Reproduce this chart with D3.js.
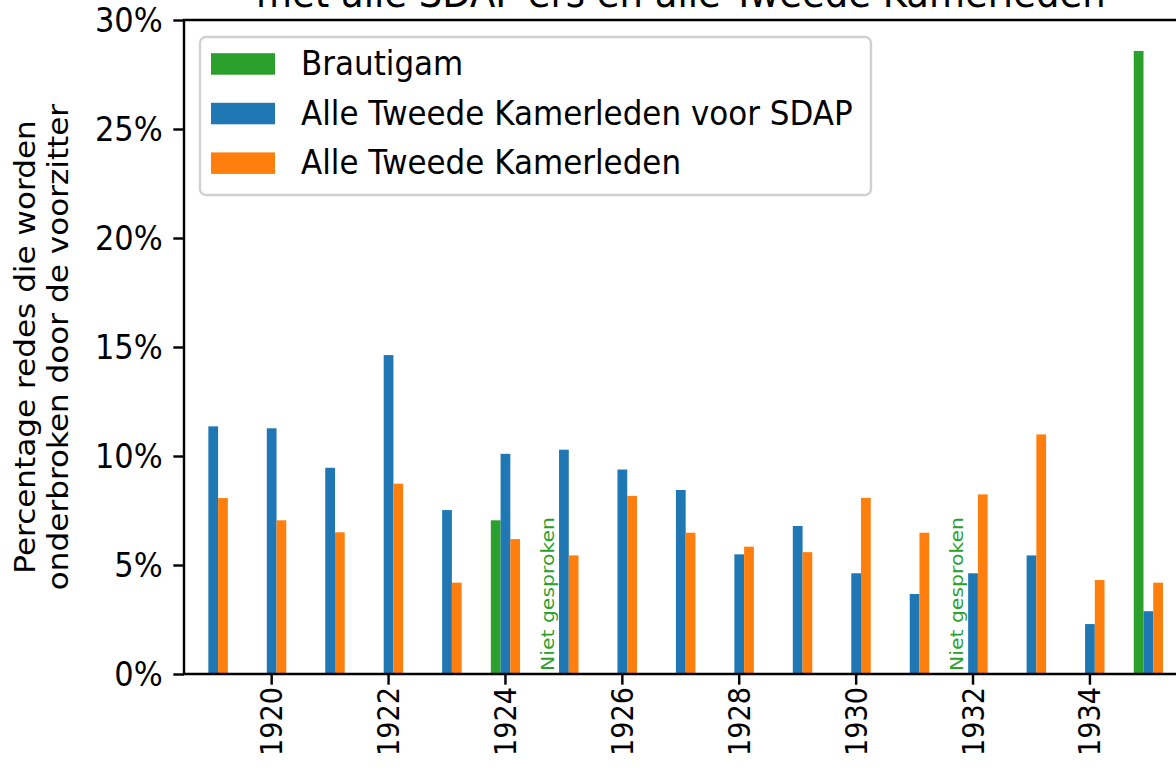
<!DOCTYPE html>
<html>
<head>
<meta charset="utf-8">
<script src="https://cdn.jsdelivr.net/npm/d3@7"></script>
<style>
  body { margin: 0; background: #fff; }
  svg text { font-family: "DejaVu Sans", sans-serif; }
</style>
</head>
<body>
<div class="canvas"></div>
<script>
// data (percent of speeches interrupted)
var years = [1919, 1920, 1921, 1922, 1923, 1924, 1925, 1926, 1927, 1928, 1929, 1930, 1931, 1932, 1933, 1934, 1935];
var brautigam = [null, null, null, null, null, 7.05, null, null, null, null, null, null, null, null, null, null, 28.58];
var sdap = [11.36, 11.27, 9.46, 14.63, 7.52, 10.10, 10.29, 9.38, 8.44, 5.49, 6.79, 4.62, 3.67, 4.62, 5.44, 2.29, 2.88];
var alle = [8.07, 7.05, 6.50, 8.73, 4.19, 6.19, 5.44, 8.17, 6.48, 5.84, 5.59, 8.08, 6.48, 8.24, 10.99, 4.31, 4.19];
var nietGesproken = [1925, 1932];
var xTickYears = [1920, 1922, 1924, 1926, 1928, 1930, 1932, 1934];
var yTicks = [0, 5, 10, 15, 20, 25, 30];
var seriesNames = ["Brautigam", "Alle Tweede Kamerleden voor SDAP", "Alle Tweede Kamerleden"];
var seriesColors = ["#2ca02c", "#1f77b4", "#ff7f0e"];
var titleText = "met alle SDAP'ers en alle Tweede Kamerleden";
var yLabelLines = ["Percentage redes die worden", "onderbroken door de voorzitter"];

chart();

function chart() {
	var fig_width = 1176;
	var fig_height = 778;
	var left = 184, right = 1177.6, top = 20, bottom = 674;
	var pt = 3.05;            // one matplotlib point in pixels here
	var fs = 30.5;            // tick font size
	var sy = 1.1;             // the picture is a little taller than wide

	var svg = d3.select("body div.canvas").append("svg")
		.attr("width", fig_width)
		.attr("height", fig_height);
	svg.append("rect").attr("width", fig_width).attr("height", fig_height).attr("fill", "#fff");

	var x = d3.scaleBand().domain(years).range([left, right]).padding(0);
	var y = d3.scaleLinear().domain([0, 30]).range([bottom, top]);
	var bw = x.bandwidth();
	var barW = bw * 0.5 / 3;
	var offsets = [-1 / 6, 0, 1 / 6];
	var series = [brautigam, sdap, alle];

	function cx(yr) { return x(yr) + bw / 2; }

	// bars
	series.forEach(function(vals, si) {
		svg.append("g")
			.selectAll("rect")
			.data(years.map(function(yr, i) { return {year: yr, v: vals[i]}; })
				.filter(function(d) { return d.v != null; }))
			.enter()
			.append("rect")
			.attr("x", function(d) { return cx(d.year) + offsets[si] * bw - barW / 2; })
			.attr("y", function(d) { return y(d.v); })
			.attr("width", barW)
			.attr("height", function(d) { return y(0) - y(d.v); })
			.attr("fill", seriesColors[si]);
	});

	// "Niet gesproken" notes where the green bar would stand
	nietGesproken.forEach(function(yr) {
		var gx = cx(yr) + offsets[0] * bw;
		svg.append("text")
			.attr("transform", "translate(" + gx + "," + (bottom - 3) + ") rotate(-90) scale(1.2,1)")
			.attr("fill", "#2ca02c")
			.style("font-size", "17px")
			.text("Niet gesproken");
	});

	// axes
	var xAxis = d3.axisBottom(x)
		.tickValues(xTickYears)
		.tickSize(3.5 * pt)
		.tickPadding(3.5 * pt);
	var gx = svg.append("g").attr("transform", "translate(0," + bottom + ")").call(xAxis);
	gx.select(".domain").remove();
	gx.selectAll(".tick line").attr("stroke", "#000").attr("stroke-width", 0.8 * pt);
	gx.selectAll(".tick text")
		.attr("fill", "#000")
		.style("font-size", fs + "px")
		.attr("y", 0)
		.attr("dy", null)
		.attr("text-anchor", "end")
		.attr("dominant-baseline", "central")
		.attr("transform", "translate(0,13) rotate(-90) scale(0.89,1)");

	var yAxis = d3.axisLeft(y)
		.tickValues(yTicks)
		.tickFormat(function(d) { return d + "%"; })
		.tickSize(3.5 * pt)
		.tickPadding(3.5 * pt);
	var gy = svg.append("g").attr("transform", "translate(" + left + ",0)").call(yAxis);
	gy.select(".domain").remove();
	gy.selectAll(".tick line").attr("stroke", "#000").attr("stroke-width", 0.8 * pt);
	gy.selectAll(".tick text")
		.attr("fill", "#000")
		.style("font-size", fs + "px")
		.attr("dy", null)
		.attr("y", 0)
		.attr("dominant-baseline", "central")
		.attr("transform", "scale(1," + sy + ")");

	// spines
	svg.append("path")
		.attr("d", "M" + left + "," + top + "H" + right + "M" + left + "," + bottom + "H" + right
			+ "M" + left + "," + top + "V" + bottom + "M" + right + "," + top + "V" + bottom)
		.attr("stroke", "#000").attr("stroke-width", 0.8 * pt).attr("fill", "none")
		.attr("stroke-linecap", "square");

	// y label, two lines
	yLabelLines.forEach(function(line, i) {
		svg.append("text")
			.attr("transform", "translate(" + (35 + i * 33) + "," + ((top + bottom) / 2) + ") rotate(-90) scale(1.11,1)")
			.attr("text-anchor", "middle")
			.attr("fill", "#000")
			.style("font-size", "28px")
			.text(line);
	});

	// title (its top is outside the picture)
	svg.append("text")
		.attr("transform", "translate(" + ((left + right) / 2) + ",6.5) scale(1," + sy + ")")
		.attr("text-anchor", "middle")
		.attr("fill", "#000")
		.style("font-size", "37px")
		.text(titleText);

	// legend
	var lg = svg.append("g");
	lg.append("rect")
		.attr("x", 200).attr("y", 37).attr("width", 671).attr("height", 158)
		.attr("rx", 6).attr("ry", 6)
		.attr("fill", "#fff").attr("fill-opacity", 0.8)
		.attr("stroke", "#d0d0d0").attr("stroke-width", 2.4);
	seriesNames.forEach(function(name, i) {
		var rowY = 63.7 + i * 49.6;
		lg.append("rect")
			.attr("x", 211).attr("y", rowY - 10.5)
			.attr("width", 64).attr("height", 21.5)
			.attr("fill", seriesColors[i]);
		lg.append("text")
			.attr("transform", "translate(301," + rowY + ") scale(1," + sy + ")")
			.attr("dominant-baseline", "central")
			.attr("fill", "#000")
			.style("font-size", "31px")
			.text(name);
	});
}
</script>
</body>
</html>
